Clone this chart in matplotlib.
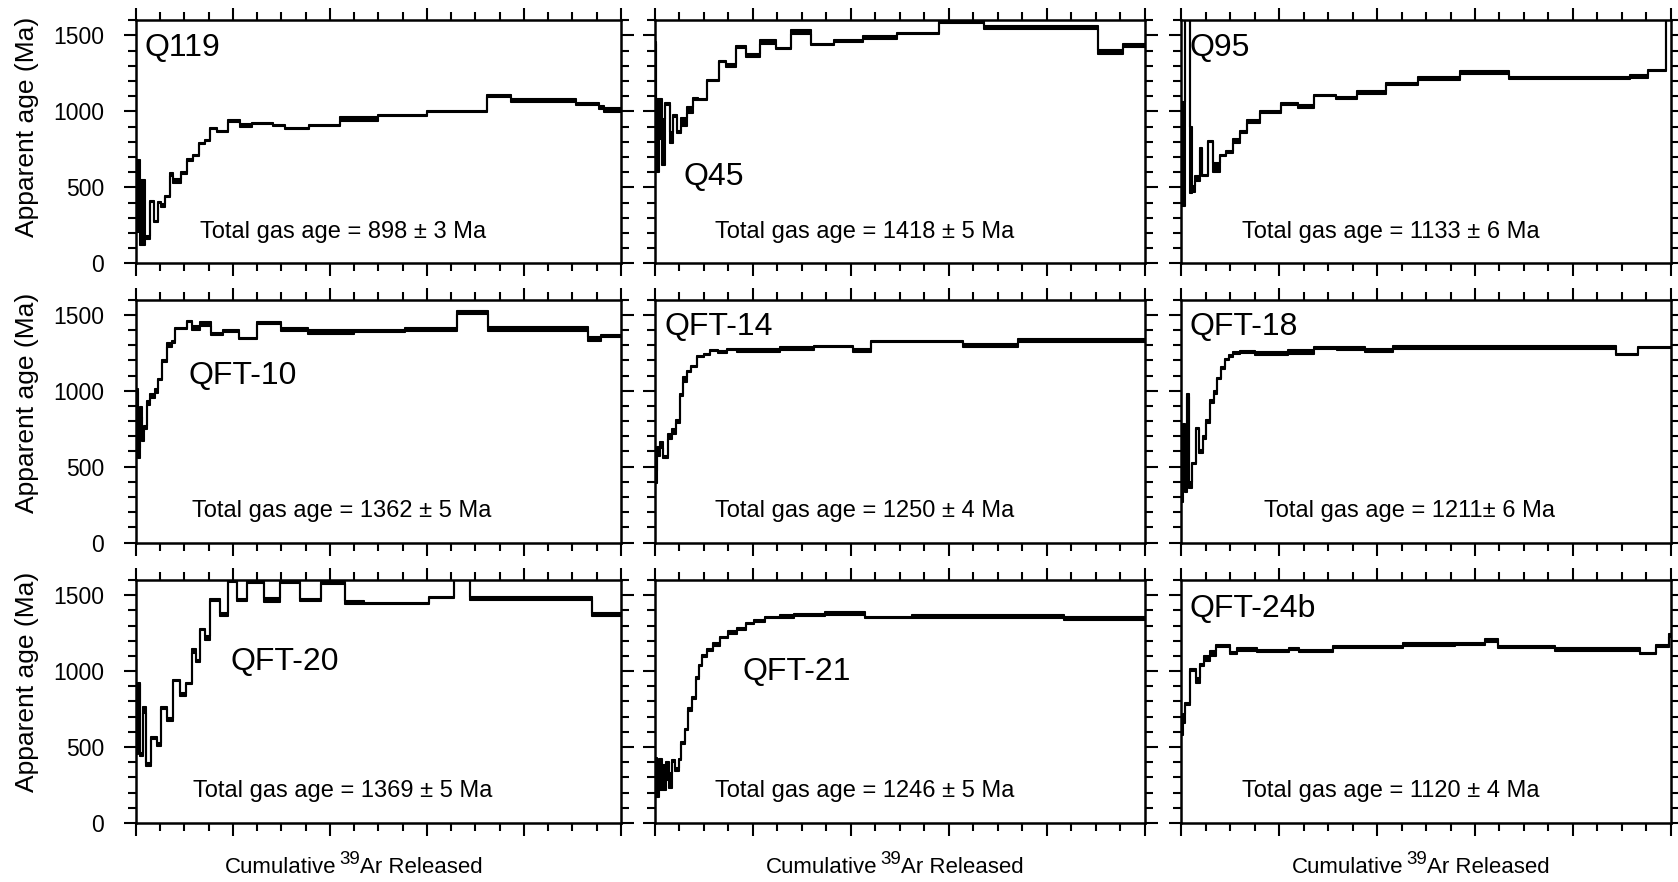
import numpy as np
import matplotlib
matplotlib.use("Agg")
import matplotlib.pyplot as plt
from matplotlib.ticker import MultipleLocator

plt.rcParams['font.family'] = ['Liberation Sans', 'DejaVu Sans']

# step spectra: right edge of each step (cumulative 39Ar fraction), age (Ma), box half-height (Ma)
q119_cum = [0.008, 0.018, 0.029, 0.038, 0.046, 0.052, 0.059, 0.071, 0.077, 0.092, 0.105, 0.118, 0.130, 0.143, 0.153, 0.168, 0.189, 0.214, 0.239, 0.282, 0.307, 0.357, 0.420, 0.500, 0.601, 0.723, 0.773, 0.908, 0.954, 0.966, 1.000]
q119_age = [445, 335, 170, 405, 275, 400, 380, 440, 585, 540, 595, 680, 712, 790, 808, 888, 870, 938, 908, 920, 905, 887, 905, 950, 972, 1000, 1100, 1071, 1049, 1025, 1010]
q119_err = [238, 215, 12, 4, 4, 4, 10, 4, 12, 12, 4, 4, 4, 4, 4, 4, 4, 6, 12, 5, 4, 5, 4, 12, 5, 4, 5, 12, 5, 10, 12]

q45_cum = [0.003, 0.008, 0.014, 0.020, 0.030, 0.037, 0.045, 0.054, 0.065, 0.078, 0.087, 0.106, 0.130, 0.146, 0.165, 0.185, 0.215, 0.247, 0.277, 0.319, 0.365, 0.425, 0.495, 0.580, 0.672, 0.905, 0.956, 1.000]
q45_age = [1450, 840, 950, 800, 1050, 830, 970, 864, 930, 1010, 1080, 1077, 1204, 1330, 1303, 1424, 1365, 1457, 1413, 1523, 1442, 1462, 1486, 1512, 1593, 1550, 1391, 1435]
q45_err = [5, 240, 130, 150, 8, 35, 5, 5, 25, 20, 5, 5, 5, 5, 10, 5, 10, 10, 5, 12, 5, 5, 12, 5, 12, 10, 12, 10]

q95_cum = [0.008, 0.017, 0.022, 0.027, 0.037, 0.042, 0.054, 0.064, 0.078, 0.092, 0.106, 0.120, 0.134, 0.161, 0.204, 0.238, 0.270, 0.316, 0.359, 0.418, 0.484, 0.569, 0.670, 0.917, 0.953, 0.990, 1.000]
q95_age = [720, 2200, 680, 490, 560, 754, 578, 802, 630, 710, 732, 805, 864, 935, 996, 1050, 1035, 1105, 1088, 1127, 1182, 1215, 1259, 1220, 1230, 1270, 2200]
q95_err = [340, 10, 220, 20, 15, 5, 5, 5, 30, 5, 8, 15, 5, 10, 5, 5, 10, 5, 5, 10, 5, 10, 10, 4, 8, 4, 10]

qft10_cum = [0.004, 0.008, 0.012, 0.016, 0.022, 0.030, 0.039, 0.045, 0.053, 0.064, 0.074, 0.081, 0.105, 0.116, 0.133, 0.154, 0.179, 0.213, 0.249, 0.300, 0.354, 0.449, 0.554, 0.663, 0.726, 0.933, 0.960, 1.000]
qft10_age = [1000, 590, 860, 700, 760, 920, 965, 1000, 1073, 1195, 1300, 1320, 1410, 1455, 1415, 1440, 1375, 1395, 1345, 1445, 1405, 1385, 1395, 1405, 1515, 1405, 1340, 1362]
qft10_err = [10, 30, 30, 30, 10, 15, 15, 12, 5, 5, 15, 5, 5, 5, 12, 12, 5, 5, 5, 5, 10, 12, 5, 10, 12, 12, 12, 5]

qft14_cum = [0.005, 0.010, 0.017, 0.026, 0.035, 0.044, 0.052, 0.058, 0.065, 0.073, 0.085, 0.100, 0.112, 0.128, 0.148, 0.167, 0.255, 0.325, 0.404, 0.440, 0.628, 0.742, 1.000]
qft14_age = [430, 600, 645, 565, 700, 730, 796, 973, 1073, 1128, 1161, 1225, 1240, 1265, 1256, 1270, 1262, 1278, 1290, 1265, 1323, 1300, 1330]
qft14_err = [40, 30, 20, 5, 15, 15, 10, 5, 15, 5, 5, 5, 5, 5, 5, 5, 10, 10, 5, 10, 5, 10, 10]

qft18_cum = [0.004, 0.008, 0.012, 0.016, 0.022, 0.030, 0.036, 0.044, 0.050, 0.058, 0.066, 0.073, 0.080, 0.088, 0.097, 0.106, 0.120, 0.151, 0.217, 0.271, 0.317, 0.375, 0.433, 0.889, 0.934, 1.000]
qft18_age = [300, 750, 350, 970, 380, 520, 750, 600, 690, 796, 929, 991, 1080, 1150, 1206, 1228, 1250, 1256, 1245, 1255, 1283, 1280, 1265, 1283, 1239, 1285]
qft18_err = [30, 30, 20, 10, 20, 5, 5, 10, 10, 10, 10, 10, 5, 5, 5, 5, 5, 5, 10, 10, 5, 10, 12, 10, 5, 5]

qft20_cum = [0.004, 0.009, 0.014, 0.020, 0.031, 0.044, 0.051, 0.065, 0.077, 0.090, 0.103, 0.115, 0.124, 0.132, 0.143, 0.153, 0.174, 0.190, 0.208, 0.229, 0.265, 0.297, 0.339, 0.381, 0.432, 0.470, 0.604, 0.655, 0.688, 0.941, 0.971, 1.000]
qft20_age = [462, 920, 450, 743, 385, 560, 516, 758, 681, 938, 846, 918, 1132, 1066, 1275, 1220, 1468, 1374, 1600, 1468, 1590, 1470, 1590, 1468, 1580, 1455, 1446, 1484, 1700, 1479, 1374, 1375]
qft20_err = [10, 5, 10, 20, 10, 5, 8, 5, 10, 5, 12, 5, 15, 5, 5, 12, 5, 12, 10, 5, 12, 12, 12, 5, 5, 10, 5, 5, 10, 10, 10, 10]

qft21_cum = [0.004, 0.008, 0.014, 0.022, 0.028, 0.035, 0.040, 0.049, 0.054, 0.061, 0.068, 0.075, 0.083, 0.090, 0.097, 0.107, 0.118, 0.132, 0.150, 0.167, 0.185, 0.203, 0.224, 0.255, 0.284, 0.347, 0.428, 0.524, 0.834, 1.000]
qft21_age = [300, 280, 320, 300, 340, 280, 407, 352, 418, 527, 615, 747, 824, 956, 1037, 1099, 1138, 1176, 1220, 1253, 1279, 1314, 1330, 1352, 1362, 1370, 1380, 1352, 1362, 1345]
qft21_err = [130, 110, 100, 80, 60, 50, 5, 8, 5, 5, 5, 8, 5, 5, 5, 8, 5, 8, 5, 8, 5, 5, 5, 5, 10, 5, 12, 5, 10, 10]

qft24b_cum = [0.004, 0.008, 0.017, 0.030, 0.037, 0.047, 0.058, 0.071, 0.099, 0.113, 0.154, 0.220, 0.241, 0.310, 0.453, 0.560, 0.620, 0.647, 0.764, 0.938, 0.970, 0.997, 1.000]
qft24b_age = [620, 688, 782, 1006, 940, 1040, 1083, 1116, 1166, 1120, 1144, 1131, 1145, 1131, 1160, 1175, 1180, 1204, 1160, 1144, 1116, 1166, 1237]
qft24b_err = [40, 30, 5, 5, 15, 5, 15, 15, 8, 5, 10, 5, 5, 5, 5, 10, 5, 10, 5, 10, 5, 5, 10]

names = ["Q119", "Q45", "Q95", "QFT-10", "QFT-14", "QFT-18", "QFT-20", "QFT-21", "QFT-24b"]
gas_ages = ["Total gas age = 898 ± 3 Ma", "Total gas age = 1418 ± 5 Ma", "Total gas age = 1133 ± 6 Ma",
            "Total gas age = 1362 ± 5 Ma", "Total gas age = 1250 ± 4 Ma", "Total gas age = 1211± 6 Ma",
            "Total gas age = 1369 ± 5 Ma", "Total gas age = 1246 ± 5 Ma", "Total gas age = 1120 ± 4 Ma"]
spectra = [(q119_cum, q119_age, q119_err), (q45_cum, q45_age, q45_err), (q95_cum, q95_age, q95_err),
           (qft10_cum, qft10_age, qft10_err), (qft14_cum, qft14_age, qft14_err), (qft18_cum, qft18_age, qft18_err),
           (qft20_cum, qft20_age, qft20_err), (qft21_cum, qft21_age, qft21_err), (qft24b_cum, qft24b_age, qft24b_err)]

# label placement (axes fraction)
name_pos = [(0.017, 0.885), (0.058, 0.355), (0.017, 0.886), (0.109, 0.687), (0.019, 0.886),
            (0.017, 0.886), (0.195, 0.663), (0.179, 0.623), (0.017, 0.88)]
gas_x = [0.427, 0.427, 0.427, 0.424, 0.428, 0.466, 0.427, 0.429, 0.427]
xlab_x = [0.45, 0.49, 0.49]

fig = plt.figure(figsize=(16.78, 8.82), dpi=100)
lefts = [0.0810, 0.3903, 0.7041]
widths = [0.289, 0.292, 0.2915]
bottoms = [0.7015, 0.3848, 0.0669]
height = 0.2755
ylab_y = [0.856, 0.543, 0.227]

bottom_axes = []
for i in range(9):
    r, c = divmod(i, 3)
    ax = fig.add_axes([lefts[c], bottoms[r], widths[c], height])
    cum, age, err = spectra[i]
    x = np.concatenate([[0.0], cum])
    age = np.array(age, dtype=float)
    err = np.array(err, dtype=float)
    lo = np.append(age - err, age[-1] - err[-1])
    hi = np.append(age + err, age[-1] + err[-1])
    # error boxes, edged so narrow boxes still read as solid black
    ax.fill_between(x, lo, hi, step='post', facecolor='k', edgecolor='k', lw=1.2)
    ax.step(x, hi, where='post', color='k', lw=1.5)
    ax.step(x, lo, where='post', color='k', lw=1.5)

    ax.set_xlim(0, 1)
    ax.set_ylim(0, 1600)
    ax.xaxis.set_major_locator(MultipleLocator(0.2))
    ax.xaxis.set_minor_locator(MultipleLocator(0.05))
    ax.yaxis.set_major_locator(MultipleLocator(500))
    ax.yaxis.set_minor_locator(MultipleLocator(100))
    ax.tick_params(which='both', direction='out', top=True, right=True, width=1.5,
                   labelbottom=False, labelleft=(c == 0), labelsize=16.5, pad=14)
    ax.tick_params(which='major', length=9)
    ax.tick_params(which='minor', length=5.5)
    for s in ax.spines.values():
        s.set_linewidth(1.8)

    ax.text(name_pos[i][0], name_pos[i][1], names[i], transform=ax.transAxes,
            ha='left', va='center', fontsize=23)
    ax.text(gas_x[i], 0.13, gas_ages[i], transform=ax.transAxes,
            ha='center', va='center', fontsize=17)
    if r == 2:
        bottom_axes.append(ax)
    if c == 0:
        fig.text(0.016, ylab_y[r], "Apparent age (Ma)", rotation=90,
                 ha='center', va='center', fontsize=19)

# x label with a large superscript, built from three pieces
renderer = fig.canvas.get_renderer()
for c, ax in enumerate(bottom_axes):
    bb = ax.get_window_extent(renderer)
    cx = bb.x0 + xlab_x[c] * bb.width
    base = bb.y0 - 0.175 * bb.height - 7
    parts = [("Cumulative", 16, 0, 3), ("39", 13.5, 9, 0), ("Ar Released", 16, 0, 0)]
    texts = []
    for s, fs, dy, gap in parts:
        t = fig.text(0, 0, s, fontsize=fs, ha='left', va='baseline', transform=None)
        texts.append((t, dy, gap))
    ws = [t.get_window_extent(renderer).width + g for t, _, g in texts]
    xpos = cx - sum(ws) / 2
    for (t, dy, g), w in zip(texts, ws):
        t.set_position((xpos, base + dy))
        xpos += w

fig.savefig("out.png", dpi=100)
